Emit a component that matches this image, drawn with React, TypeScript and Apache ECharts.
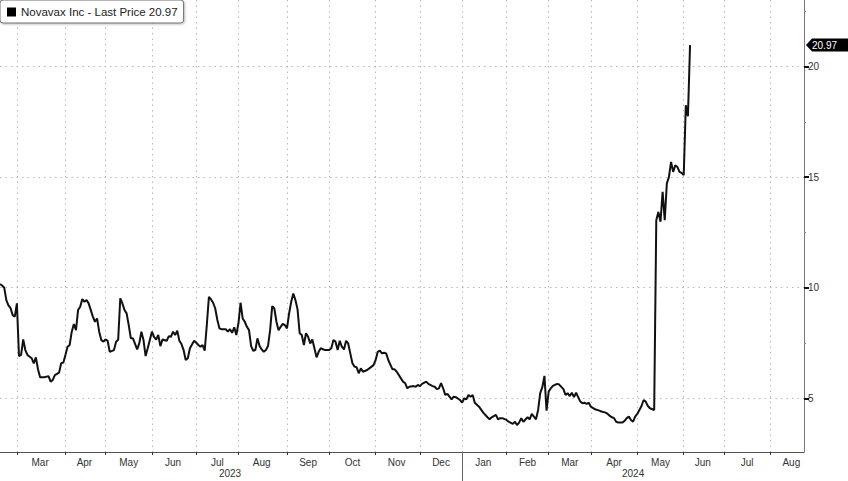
import React, { useEffect, useRef } from "react";
import * as echarts from "echarts";

const seriesName = "Novavax Inc - Last Price 20.97";
const lastPrice = 20.97;
const firstSession = "2023-02-16";
const lastSession = "2024-08-23";
const marketHolidays = [
  "2023-02-20", "2023-04-07", "2023-05-29", "2023-06-19", "2023-07-04", "2023-09-04",
  "2023-11-23", "2023-12-25", "2024-01-01", "2024-01-15", "2024-02-19", "2024-03-29",
  "2024-05-27", "2024-06-19", "2024-07-04",
];
const monthNames = ["Jan", "Feb", "Mar", "Apr", "May", "Jun", "Jul", "Aug", "Sep", "Oct", "Nov", "Dec"];
const yTickValues = [5, 10, 15, 20];
const yMinorTickValues = [7.5, 12.5, 17.5, 22.5];
const yMin = 2.57;
const yMax = 23.01;

const priceDates = [
  "2023-02-16", "2023-02-17", "2023-02-21", "2023-02-22", "2023-02-23", "2023-02-24", "2023-02-27", "2023-02-28",
  "2023-03-01", "2023-03-02", "2023-03-03", "2023-03-06", "2023-03-07", "2023-03-08", "2023-03-10", "2023-03-13",
  "2023-03-14", "2023-03-15", "2023-03-16", "2023-03-20", "2023-03-22", "2023-03-23", "2023-03-24", "2023-03-27",
  "2023-03-29", "2023-03-30", "2023-03-31",
  "2023-04-03", "2023-04-04", "2023-04-05", "2023-04-06", "2023-04-10", "2023-04-11", "2023-04-12", "2023-04-13",
  "2023-04-14", "2023-04-17", "2023-04-18", "2023-04-19", "2023-04-21", "2023-04-24", "2023-04-25", "2023-04-26",
  "2023-04-27", "2023-04-28",
  "2023-05-01", "2023-05-02", "2023-05-03", "2023-05-05", "2023-05-08", "2023-05-09", "2023-05-10", "2023-05-11",
  "2023-05-12", "2023-05-15", "2023-05-16", "2023-05-17", "2023-05-18", "2023-05-22", "2023-05-23", "2023-05-24",
  "2023-05-25", "2023-05-26", "2023-05-30",
  "2023-06-01", "2023-06-02", "2023-06-05", "2023-06-06", "2023-06-07", "2023-06-08", "2023-06-12", "2023-06-13",
  "2023-06-14", "2023-06-15", "2023-06-16", "2023-06-20", "2023-06-21", "2023-06-22", "2023-06-23", "2023-06-26",
  "2023-06-27", "2023-06-28", "2023-06-30",
  "2023-07-03", "2023-07-05", "2023-07-06", "2023-07-07", "2023-07-10", "2023-07-11", "2023-07-12", "2023-07-13",
  "2023-07-14", "2023-07-17", "2023-07-18", "2023-07-19", "2023-07-20", "2023-07-24", "2023-07-25", "2023-07-26",
  "2023-07-27", "2023-07-28", "2023-07-31",
  "2023-08-01", "2023-08-02", "2023-08-03", "2023-08-04", "2023-08-07", "2023-08-08", "2023-08-09", "2023-08-10",
  "2023-08-11", "2023-08-14", "2023-08-15", "2023-08-16", "2023-08-17", "2023-08-18", "2023-08-21", "2023-08-22",
  "2023-08-23", "2023-08-24", "2023-08-25", "2023-08-28", "2023-08-29", "2023-08-30", "2023-08-31",
  "2023-09-01", "2023-09-05", "2023-09-06", "2023-09-07", "2023-09-08", "2023-09-11", "2023-09-12", "2023-09-13",
  "2023-09-14", "2023-09-15", "2023-09-18", "2023-09-19", "2023-09-20", "2023-09-21", "2023-09-22", "2023-09-25",
  "2023-09-26", "2023-09-28",
  "2023-10-02", "2023-10-03", "2023-10-04", "2023-10-05", "2023-10-06", "2023-10-09", "2023-10-10", "2023-10-11",
  "2023-10-12", "2023-10-13", "2023-10-16", "2023-10-17", "2023-10-18", "2023-10-19", "2023-10-20", "2023-10-23",
  "2023-10-24", "2023-10-26", "2023-10-27", "2023-10-31",
  "2023-11-01", "2023-11-02", "2023-11-03", "2023-11-06", "2023-11-07", "2023-11-08", "2023-11-09", "2023-11-13",
  "2023-11-14", "2023-11-15", "2023-11-17", "2023-11-20", "2023-11-21", "2023-11-22", "2023-11-24", "2023-11-28",
  "2023-11-29", "2023-11-30",
  "2023-12-01", "2023-12-04", "2023-12-06", "2023-12-07", "2023-12-11", "2023-12-12", "2023-12-13", "2023-12-14",
  "2023-12-15", "2023-12-18", "2023-12-19", "2023-12-20", "2023-12-22", "2023-12-26", "2023-12-27", "2023-12-29",
  "2024-01-02", "2024-01-03", "2024-01-04", "2024-01-05", "2024-01-08", "2024-01-09", "2024-01-10", "2024-01-12",
  "2024-01-17", "2024-01-19", "2024-01-22", "2024-01-23", "2024-01-25", "2024-01-26", "2024-01-29", "2024-01-30",
  "2024-02-01", "2024-02-02", "2024-02-06", "2024-02-07", "2024-02-08", "2024-02-09", "2024-02-12", "2024-02-13",
  "2024-02-15", "2024-02-16", "2024-02-20", "2024-02-21", "2024-02-22", "2024-02-23", "2024-02-26", "2024-02-27",
  "2024-02-28", "2024-02-29",
  "2024-03-01", "2024-03-04", "2024-03-05", "2024-03-07", "2024-03-08", "2024-03-12", "2024-03-13", "2024-03-14",
  "2024-03-15", "2024-03-18", "2024-03-19", "2024-03-20", "2024-03-21", "2024-03-22", "2024-03-25", "2024-03-26",
  "2024-03-27", "2024-03-28",
  "2024-04-01", "2024-04-03", "2024-04-05", "2024-04-08", "2024-04-10", "2024-04-11", "2024-04-12", "2024-04-15",
  "2024-04-16", "2024-04-17", "2024-04-18", "2024-04-22", "2024-04-23", "2024-04-24", "2024-04-25", "2024-04-26",
  "2024-04-29", "2024-04-30",
  "2024-05-01", "2024-05-02", "2024-05-03", "2024-05-06", "2024-05-07", "2024-05-08", "2024-05-09", "2024-05-13",
  "2024-05-14", "2024-05-15", "2024-05-16", "2024-05-17", "2024-05-20", "2024-05-21", "2024-05-22", "2024-05-23",
  "2024-05-24", "2024-05-28", "2024-05-29", "2024-05-30", "2024-05-31",
  "2024-06-03", "2024-06-04", "2024-06-05", "2024-06-06",
];

const priceValues = [
  10.16, 10.10, 10.00, 9.44, 9.20, 9.08, 8.76, 8.69,
  9.29, 6.91, 6.96, 7.66, 7.18, 6.96, 6.81, 6.58,
  6.85, 6.31, 5.95, 5.95, 6.00, 5.75, 5.83, 6.05,
  6.16, 6.58, 6.61,
  6.96, 7.33, 7.41, 8.01, 8.36, 8.08, 8.99, 9.14,
  9.49, 9.36, 9.44, 9.29, 8.69, 8.46, 8.61, 8.01,
  7.63, 7.56,
  7.66, 7.60, 7.10, 7.18, 7.56, 7.65, 9.52, 9.29,
  8.99, 8.84, 8.31, 7.71, 7.71, 7.21, 7.48, 8.01,
  7.63, 6.91, 7.26,
  8.01, 7.78, 7.65, 7.86, 7.36, 7.66, 7.60, 7.81,
  7.78, 8.01, 7.86, 8.05, 7.60, 7.45, 7.18, 6.73,
  6.81, 7.26, 7.60,
  7.51, 7.41, 7.33, 7.41, 7.15, 8.31, 9.59, 9.47,
  9.32, 9.06, 8.54, 8.16, 8.12, 8.12, 8.01, 8.12,
  7.96, 8.21, 7.86,
  8.39, 9.32, 8.61, 8.46, 8.23, 8.08, 7.36, 7.15,
  7.18, 7.71, 7.36, 7.21, 7.10, 7.18, 7.36, 8.08,
  9.17, 9.06, 8.46, 8.08, 8.23, 8.36, 8.31,
  8.16, 8.84, 9.36, 9.74, 9.44, 9.02, 7.94, 7.86,
  7.41, 7.94, 7.78, 7.48, 7.66, 7.26, 6.85, 7.10,
  7.26, 7.18,
  7.18, 7.26, 7.63, 7.56, 7.18, 7.60, 7.33, 7.21,
  7.60, 7.48, 7.03, 6.58, 6.43, 6.40, 6.13, 6.35,
  6.20, 6.28, 6.35, 6.50,
  6.73, 7.10, 7.15, 7.03, 7.06, 7.03, 6.73, 6.31,
  6.31, 6.20, 5.90, 5.75, 5.68, 5.45, 5.52, 5.55,
  5.52, 5.60,
  5.55, 5.65, 5.75, 5.65, 5.55, 5.52, 5.41, 5.45,
  5.68, 5.45, 5.15, 5.20, 4.95, 5.07, 5.05, 4.92,
  4.80, 5.00, 4.95, 5.15, 5.07, 5.15, 4.80, 4.62,
  4.35, 4.14, 4.05, 4.14, 4.25, 4.05, 4.10, 4.10,
  4.02, 3.94, 3.84, 3.94, 3.79, 3.90, 4.10, 3.94,
  4.14, 4.05, 4.29, 4.17, 4.05, 4.47, 5.23, 5.50,
  6.01, 4.44,
  5.30, 5.45, 5.56, 5.65, 5.62, 5.41, 5.15, 5.23,
  5.10, 5.25, 5.05, 5.25, 5.05, 4.85, 4.77, 4.80,
  4.74, 4.80,
  4.62, 4.50, 4.44, 4.40, 4.35, 4.29, 4.20, 4.14,
  4.10, 3.94, 3.90, 3.90, 3.98, 4.10, 4.17, 4.02,
  3.94, 4.17,
  4.29, 4.47, 4.65, 4.92, 4.85, 4.65, 4.55, 4.47,
  13.05, 13.43, 12.98, 14.33, 13.05, 14.71, 15.01, 15.69,
  15.24, 15.54, 15.46, 15.24, 15.19,
  15.09, 18.25, 17.75, 20.97,
];

const FONT = '"Liberation Sans", Arial, sans-serif';
const W = 848;
const H = 481;
const GRID_RIGHT = 44;
const GRID_BOTTOM = 29;

function buildTradingDays(start: string, end: string, holidays: string[]): string[] {
  const out: string[] = [];
  const hol = new Set(holidays);
  const d = new Date(start + "T00:00:00Z");
  const e = new Date(end + "T00:00:00Z");
  while (d.getTime() <= e.getTime()) {
    const wd = d.getUTCDay();
    const s = d.toISOString().slice(0, 10);
    if (wd !== 0 && wd !== 6 && !hol.has(s)) out.push(s);
    d.setUTCDate(d.getUTCDate() + 1);
  }
  return out;
}

export default function App() {
  const ref = useRef<HTMLDivElement>(null);

  useEffect(() => {
    if (!ref.current) return;
    const chart = echarts.init(ref.current, undefined, { renderer: "svg" });

    const categories = buildTradingDays(firstSession, lastSession, marketHolidays);
    const lastIdx = categories.length - 1;

    const monthFirst: Record<string, number> = {};
    const monthLast: Record<string, number> = {};
    const yearFirst: Record<string, number> = {};
    const yearLast: Record<string, number> = {};
    categories.forEach((c, i) => {
      const m = c.slice(0, 7);
      const y = c.slice(0, 4);
      if (monthFirst[m] === undefined) monthFirst[m] = i;
      monthLast[m] = i;
      if (yearFirst[y] === undefined) yearFirst[y] = i;
      yearLast[y] = i;
    });
    const monthStart = new Set<number>();
    const monthLabel = new Set<number>();
    Object.keys(monthFirst).forEach((m) => {
      const f = monthFirst[m];
      const l = monthLast[m];
      if (f === 0) return;
      monthStart.add(f);
      monthLabel.add(l === lastIdx ? f + 10 : Math.round((f + l) / 2));
    });
    const yearStart = new Set<number>();
    const yearLabel = new Set<number>();
    Object.keys(yearFirst).forEach((y) => {
      const f = yearFirst[y];
      const l = yearLast[y];
      if (f > 0) yearStart.add(f);
      yearLabel.add(Math.round((f + l) / 2));
    });

    const seriesData = priceDates.map((d, i) => [d, priceValues[i]]);

    const option: any = {
      animation: false,
      backgroundColor: "#ffffff",
      textStyle: { fontFamily: FONT },
      grid: {
        left: 0,
        right: GRID_RIGHT,
        top: 0,
        bottom: GRID_BOTTOM,
        containLabel: false,
        outerBoundsMode: "none",
      },
      legend: {
        show: true,
        left: 0,
        top: 0,
        data: [{ name: seriesName, icon: "rect" }],
        itemWidth: 9,
        itemHeight: 9,
        itemGap: 5,
        padding: [6, 6, 5, 7],
        backgroundColor: "#ffffff",
        borderColor: "#6f6f6f",
        borderWidth: 1,
        borderRadius: 3,
        shadowColor: "rgba(0,0,0,0.25)",
        shadowBlur: 2,
        shadowOffsetX: 1,
        shadowOffsetY: 1,
        selectedMode: false,
        textStyle: { fontSize: 11.5, color: "#222", fontFamily: FONT },
      },
      xAxis: [
        {
          type: "category",
          data: categories,
          boundaryGap: false,
          position: "bottom",
          axisLine: { show: true, lineStyle: { color: "#555", width: 1 } },
          axisTick: {
            show: true,
            interval: (i: number) => monthStart.has(i),
            length: 3,
            lineStyle: { color: "#333", width: 1 },
          },
          axisLabel: {
            show: true,
            interval: (i: number) => monthLabel.has(i),
            formatter: (v: string) => monthNames[parseInt(v.slice(5, 7), 10) - 1],
            fontSize: 10,
            color: "#333",
            margin: 5,
            fontFamily: FONT,
          },
          splitLine: {
            show: true,
            interval: (i: number) => monthStart.has(i),
            lineStyle: { color: "#b8b8b8", type: [1.5, 4], width: 1 },
          },
        },
        {
          type: "category",
          data: categories,
          boundaryGap: false,
          position: "bottom",
          axisLine: { show: false },
          axisTick: {
            show: true,
            interval: (i: number) => yearStart.has(i),
            length: 29,
            lineStyle: { color: "#666", width: 1 },
          },
          axisLabel: {
            show: true,
            interval: (i: number) => yearLabel.has(i),
            formatter: (v: string) => v.slice(0, 4),
            fontSize: 10,
            color: "#333",
            margin: 16,
            fontFamily: FONT,
          },
          splitLine: { show: false },
        },
      ],
      yAxis: [
        {
          type: "value",
          position: "right",
          min: yMin,
          max: yMax,
          axisLine: { show: true, lineStyle: { color: "#777", width: 1 } },
          axisTick: {
            show: true,
            customValues: yTickValues,
            length: 5,
            lineStyle: { color: "#111", width: 2 },
          },
          axisLabel: {
            show: true,
            customValues: yTickValues,
            fontSize: 10,
            color: "#333",
            margin: 4,
            fontFamily: FONT,
          },
          splitLine: {
            show: true,
            lineStyle: { color: "#b8b8b8", type: [1.5, 4], width: 1 },
          },
        },
        {
          type: "value",
          position: "right",
          min: yMin,
          max: yMax,
          axisLine: { show: false },
          axisTick: {
            show: true,
            customValues: yMinorTickValues,
            length: 2,
            lineStyle: { color: "#888", width: 1 },
          },
          axisLabel: { show: false },
          splitLine: { show: false },
        },
      ],
      series: [
        {
          name: seriesName,
          type: "line",
          xAxisIndex: 0,
          yAxisIndex: 0,
          data: seriesData,
          showSymbol: false,
          symbol: "none",
          color: "#000",
          lineStyle: { color: "#111", width: 2 },
          z: 5,
        },
      ],
    };

    chart.setOption(option);

    const py = chart.convertToPixel({ yAxisIndex: 0 }, lastPrice) as number;
    const ax = chart.getWidth() - GRID_RIGHT;
    const right = chart.getWidth();
    const hh = 6.5;
    chart.setOption({
      graphic: [
        {
          type: "group",
          z: 100,
          children: [
            {
              type: "polygon",
              shape: {
                points: [
                  [ax + 2, py],
                  [ax + 8, py - hh],
                  [right, py - hh],
                  [right, py + hh],
                  [ax + 8, py + hh],
                ],
              },
              style: { fill: "#000" },
            },
            {
              type: "text",
              x: ax + 8,
              y: py,
              style: {
                text: lastPrice.toFixed(2),
                fill: "#fff",
                fontSize: 10,
                fontFamily: FONT,
                verticalAlign: "middle",
                align: "left",
              },
            },
          ],
        },
      ],
    });

    return () => {
      chart.dispose();
    };
  }, []);

  return (
    <div
      ref={ref}
      style={{ position: "fixed", left: 0, top: 0, width: W, height: H, background: "#fff" }}
    />
  );
}
